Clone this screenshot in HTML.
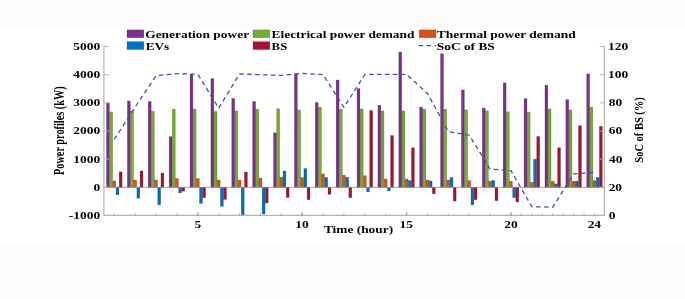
<!DOCTYPE html><html><head><meta charset="utf-8"><style>html,body{margin:0;padding:0;background:#fff;overflow:hidden}svg{display:block}svg{will-change:transform}text{font-family:"Liberation Serif",serif;font-weight:bold;fill:#000}</style></head><body>
<svg width="685" height="299" viewBox="0 0 685 299">
<rect x="0" y="0" width="685" height="299" fill="#ffffff"/>
<rect x="0" y="0" width="685" height="27" fill="#fcfcfc"/>
<rect x="0" y="245" width="685" height="54" fill="#fcfcfc"/>
<g shape-rendering="auto">
<rect x="106.53" y="102.85" width="2.85" height="84.45" fill="#7E2F8E" stroke="rgba(0,0,0,0.4)" stroke-width="0.5"/>
<rect x="109.70" y="111.94" width="2.85" height="75.36" fill="#77AC30" stroke="rgba(0,0,0,0.4)" stroke-width="0.5"/>
<rect x="112.88" y="181.05" width="2.85" height="6.25" fill="#D95319" stroke="rgba(0,0,0,0.4)" stroke-width="0.5"/>
<rect x="116.05" y="187.30" width="2.85" height="7.43" fill="#0072BD" stroke="rgba(0,0,0,0.4)" stroke-width="0.5"/>
<rect x="119.22" y="171.87" width="2.85" height="15.43" fill="#A2142F" stroke="rgba(0,0,0,0.4)" stroke-width="0.5"/>
<rect x="127.41" y="100.96" width="2.85" height="86.34" fill="#7E2F8E" stroke="rgba(0,0,0,0.4)" stroke-width="0.5"/>
<rect x="130.58" y="111.04" width="2.85" height="76.26" fill="#77AC30" stroke="rgba(0,0,0,0.4)" stroke-width="0.5"/>
<rect x="133.75" y="180.07" width="2.85" height="7.23" fill="#D95319" stroke="rgba(0,0,0,0.4)" stroke-width="0.5"/>
<rect x="136.92" y="187.30" width="2.85" height="10.87" fill="#0072BD" stroke="rgba(0,0,0,0.4)" stroke-width="0.5"/>
<rect x="140.09" y="170.94" width="2.85" height="16.36" fill="#A2142F" stroke="rgba(0,0,0,0.4)" stroke-width="0.5"/>
<rect x="148.29" y="101.56" width="2.85" height="85.74" fill="#7E2F8E" stroke="rgba(0,0,0,0.4)" stroke-width="0.5"/>
<rect x="151.46" y="111.44" width="2.85" height="75.86" fill="#77AC30" stroke="rgba(0,0,0,0.4)" stroke-width="0.5"/>
<rect x="154.63" y="180.07" width="2.85" height="7.23" fill="#D95319" stroke="rgba(0,0,0,0.4)" stroke-width="0.5"/>
<rect x="157.80" y="187.30" width="2.85" height="17.57" fill="#0072BD" stroke="rgba(0,0,0,0.4)" stroke-width="0.5"/>
<rect x="160.97" y="173.06" width="2.85" height="14.24" fill="#A2142F" stroke="rgba(0,0,0,0.4)" stroke-width="0.5"/>
<rect x="169.17" y="136.74" width="2.85" height="50.56" fill="#7E2F8E" stroke="rgba(0,0,0,0.4)" stroke-width="0.5"/>
<rect x="172.34" y="109.16" width="2.85" height="78.14" fill="#77AC30" stroke="rgba(0,0,0,0.4)" stroke-width="0.5"/>
<rect x="175.51" y="178.55" width="2.85" height="8.75" fill="#D95319" stroke="rgba(0,0,0,0.4)" stroke-width="0.5"/>
<rect x="178.68" y="187.30" width="2.85" height="5.55" fill="#0072BD" stroke="rgba(0,0,0,0.4)" stroke-width="0.5"/>
<rect x="181.85" y="187.30" width="2.85" height="3.86" fill="#A2142F" stroke="rgba(0,0,0,0.4)" stroke-width="0.5"/>
<rect x="190.05" y="74.25" width="2.85" height="113.05" fill="#7E2F8E" stroke="rgba(0,0,0,0.4)" stroke-width="0.5"/>
<rect x="193.22" y="109.16" width="2.85" height="78.14" fill="#77AC30" stroke="rgba(0,0,0,0.4)" stroke-width="0.5"/>
<rect x="196.39" y="178.55" width="2.85" height="8.75" fill="#D95319" stroke="rgba(0,0,0,0.4)" stroke-width="0.5"/>
<rect x="199.56" y="187.30" width="2.85" height="16.05" fill="#0072BD" stroke="rgba(0,0,0,0.4)" stroke-width="0.5"/>
<rect x="202.73" y="187.30" width="2.85" height="10.36" fill="#A2142F" stroke="rgba(0,0,0,0.4)" stroke-width="0.5"/>
<rect x="210.93" y="78.64" width="2.85" height="108.66" fill="#7E2F8E" stroke="rgba(0,0,0,0.4)" stroke-width="0.5"/>
<rect x="214.10" y="111.63" width="2.85" height="75.67" fill="#77AC30" stroke="rgba(0,0,0,0.4)" stroke-width="0.5"/>
<rect x="217.27" y="180.07" width="2.85" height="7.23" fill="#D95319" stroke="rgba(0,0,0,0.4)" stroke-width="0.5"/>
<rect x="220.44" y="187.30" width="2.85" height="19.06" fill="#0072BD" stroke="rgba(0,0,0,0.4)" stroke-width="0.5"/>
<rect x="223.61" y="187.30" width="2.85" height="12.05" fill="#A2142F" stroke="rgba(0,0,0,0.4)" stroke-width="0.5"/>
<rect x="231.80" y="98.54" width="2.85" height="88.76" fill="#7E2F8E" stroke="rgba(0,0,0,0.4)" stroke-width="0.5"/>
<rect x="234.97" y="110.96" width="2.85" height="76.34" fill="#77AC30" stroke="rgba(0,0,0,0.4)" stroke-width="0.5"/>
<rect x="238.14" y="180.07" width="2.85" height="7.23" fill="#D95319" stroke="rgba(0,0,0,0.4)" stroke-width="0.5"/>
<rect x="241.31" y="187.30" width="2.85" height="27.64" fill="#0072BD" stroke="rgba(0,0,0,0.4)" stroke-width="0.5"/>
<rect x="244.48" y="172.04" width="2.85" height="15.26" fill="#A2142F" stroke="rgba(0,0,0,0.4)" stroke-width="0.5"/>
<rect x="252.68" y="101.56" width="2.85" height="85.74" fill="#7E2F8E" stroke="rgba(0,0,0,0.4)" stroke-width="0.5"/>
<rect x="255.85" y="109.27" width="2.85" height="78.03" fill="#77AC30" stroke="rgba(0,0,0,0.4)" stroke-width="0.5"/>
<rect x="259.02" y="178.15" width="2.85" height="9.15" fill="#D95319" stroke="rgba(0,0,0,0.4)" stroke-width="0.5"/>
<rect x="262.19" y="187.30" width="2.85" height="26.66" fill="#0072BD" stroke="rgba(0,0,0,0.4)" stroke-width="0.5"/>
<rect x="265.36" y="187.30" width="2.85" height="15.65" fill="#A2142F" stroke="rgba(0,0,0,0.4)" stroke-width="0.5"/>
<rect x="273.56" y="132.86" width="2.85" height="54.44" fill="#7E2F8E" stroke="rgba(0,0,0,0.4)" stroke-width="0.5"/>
<rect x="276.73" y="108.85" width="2.85" height="78.45" fill="#77AC30" stroke="rgba(0,0,0,0.4)" stroke-width="0.5"/>
<rect x="279.90" y="177.25" width="2.85" height="10.05" fill="#D95319" stroke="rgba(0,0,0,0.4)" stroke-width="0.5"/>
<rect x="283.07" y="170.94" width="2.85" height="16.36" fill="#0072BD" stroke="rgba(0,0,0,0.4)" stroke-width="0.5"/>
<rect x="286.24" y="187.30" width="2.85" height="10.13" fill="#A2142F" stroke="rgba(0,0,0,0.4)" stroke-width="0.5"/>
<rect x="294.44" y="73.94" width="2.85" height="113.36" fill="#7E2F8E" stroke="rgba(0,0,0,0.4)" stroke-width="0.5"/>
<rect x="297.61" y="109.94" width="2.85" height="77.36" fill="#77AC30" stroke="rgba(0,0,0,0.4)" stroke-width="0.5"/>
<rect x="300.78" y="177.56" width="2.85" height="9.74" fill="#D95319" stroke="rgba(0,0,0,0.4)" stroke-width="0.5"/>
<rect x="303.95" y="168.64" width="2.85" height="18.66" fill="#0072BD" stroke="rgba(0,0,0,0.4)" stroke-width="0.5"/>
<rect x="307.12" y="187.30" width="2.85" height="12.36" fill="#A2142F" stroke="rgba(0,0,0,0.4)" stroke-width="0.5"/>
<rect x="315.32" y="102.54" width="2.85" height="84.76" fill="#7E2F8E" stroke="rgba(0,0,0,0.4)" stroke-width="0.5"/>
<rect x="318.49" y="107.35" width="2.85" height="79.95" fill="#77AC30" stroke="rgba(0,0,0,0.4)" stroke-width="0.5"/>
<rect x="321.66" y="173.96" width="2.85" height="13.34" fill="#D95319" stroke="rgba(0,0,0,0.4)" stroke-width="0.5"/>
<rect x="324.83" y="177.56" width="2.85" height="9.74" fill="#0072BD" stroke="rgba(0,0,0,0.4)" stroke-width="0.5"/>
<rect x="328.00" y="187.30" width="2.85" height="7.04" fill="#A2142F" stroke="rgba(0,0,0,0.4)" stroke-width="0.5"/>
<rect x="336.20" y="80.05" width="2.85" height="107.25" fill="#7E2F8E" stroke="rgba(0,0,0,0.4)" stroke-width="0.5"/>
<rect x="339.37" y="109.27" width="2.85" height="78.03" fill="#77AC30" stroke="rgba(0,0,0,0.4)" stroke-width="0.5"/>
<rect x="342.54" y="175.25" width="2.85" height="12.05" fill="#D95319" stroke="rgba(0,0,0,0.4)" stroke-width="0.5"/>
<rect x="345.71" y="177.25" width="2.85" height="10.05" fill="#0072BD" stroke="rgba(0,0,0,0.4)" stroke-width="0.5"/>
<rect x="348.88" y="187.30" width="2.85" height="10.44" fill="#A2142F" stroke="rgba(0,0,0,0.4)" stroke-width="0.5"/>
<rect x="357.07" y="88.63" width="2.85" height="98.67" fill="#7E2F8E" stroke="rgba(0,0,0,0.4)" stroke-width="0.5"/>
<rect x="360.24" y="109.04" width="2.85" height="78.26" fill="#77AC30" stroke="rgba(0,0,0,0.4)" stroke-width="0.5"/>
<rect x="363.41" y="175.76" width="2.85" height="11.54" fill="#D95319" stroke="rgba(0,0,0,0.4)" stroke-width="0.5"/>
<rect x="366.58" y="187.30" width="2.85" height="4.56" fill="#0072BD" stroke="rgba(0,0,0,0.4)" stroke-width="0.5"/>
<rect x="369.75" y="110.53" width="2.85" height="76.77" fill="#A2142F" stroke="rgba(0,0,0,0.4)" stroke-width="0.5"/>
<rect x="377.95" y="105.24" width="2.85" height="82.06" fill="#7E2F8E" stroke="rgba(0,0,0,0.4)" stroke-width="0.5"/>
<rect x="381.12" y="110.96" width="2.85" height="76.34" fill="#77AC30" stroke="rgba(0,0,0,0.4)" stroke-width="0.5"/>
<rect x="384.29" y="179.05" width="2.85" height="8.25" fill="#D95319" stroke="rgba(0,0,0,0.4)" stroke-width="0.5"/>
<rect x="387.46" y="187.30" width="2.85" height="3.63" fill="#0072BD" stroke="rgba(0,0,0,0.4)" stroke-width="0.5"/>
<rect x="390.63" y="135.56" width="2.85" height="51.74" fill="#A2142F" stroke="rgba(0,0,0,0.4)" stroke-width="0.5"/>
<rect x="398.83" y="52.04" width="2.85" height="135.26" fill="#7E2F8E" stroke="rgba(0,0,0,0.4)" stroke-width="0.5"/>
<rect x="402.00" y="110.96" width="2.85" height="76.34" fill="#77AC30" stroke="rgba(0,0,0,0.4)" stroke-width="0.5"/>
<rect x="405.17" y="179.05" width="2.85" height="8.25" fill="#D95319" stroke="rgba(0,0,0,0.4)" stroke-width="0.5"/>
<rect x="408.34" y="180.60" width="2.85" height="6.70" fill="#0072BD" stroke="rgba(0,0,0,0.4)" stroke-width="0.5"/>
<rect x="411.51" y="147.75" width="2.85" height="39.55" fill="#A2142F" stroke="rgba(0,0,0,0.4)" stroke-width="0.5"/>
<rect x="419.71" y="107.16" width="2.85" height="80.14" fill="#7E2F8E" stroke="rgba(0,0,0,0.4)" stroke-width="0.5"/>
<rect x="422.88" y="109.27" width="2.85" height="78.03" fill="#77AC30" stroke="rgba(0,0,0,0.4)" stroke-width="0.5"/>
<rect x="426.05" y="180.01" width="2.85" height="7.29" fill="#D95319" stroke="rgba(0,0,0,0.4)" stroke-width="0.5"/>
<rect x="429.22" y="180.99" width="2.85" height="6.31" fill="#0072BD" stroke="rgba(0,0,0,0.4)" stroke-width="0.5"/>
<rect x="432.39" y="187.30" width="2.85" height="6.45" fill="#A2142F" stroke="rgba(0,0,0,0.4)" stroke-width="0.5"/>
<rect x="440.59" y="53.76" width="2.85" height="133.54" fill="#7E2F8E" stroke="rgba(0,0,0,0.4)" stroke-width="0.5"/>
<rect x="443.76" y="109.27" width="2.85" height="78.03" fill="#77AC30" stroke="rgba(0,0,0,0.4)" stroke-width="0.5"/>
<rect x="446.93" y="180.01" width="2.85" height="7.29" fill="#D95319" stroke="rgba(0,0,0,0.4)" stroke-width="0.5"/>
<rect x="450.10" y="177.45" width="2.85" height="9.85" fill="#0072BD" stroke="rgba(0,0,0,0.4)" stroke-width="0.5"/>
<rect x="453.27" y="187.30" width="2.85" height="13.74" fill="#A2142F" stroke="rgba(0,0,0,0.4)" stroke-width="0.5"/>
<rect x="461.47" y="89.96" width="2.85" height="97.34" fill="#7E2F8E" stroke="rgba(0,0,0,0.4)" stroke-width="0.5"/>
<rect x="464.64" y="109.94" width="2.85" height="77.36" fill="#77AC30" stroke="rgba(0,0,0,0.4)" stroke-width="0.5"/>
<rect x="467.81" y="180.60" width="2.85" height="6.70" fill="#D95319" stroke="rgba(0,0,0,0.4)" stroke-width="0.5"/>
<rect x="470.98" y="187.30" width="2.85" height="17.57" fill="#0072BD" stroke="rgba(0,0,0,0.4)" stroke-width="0.5"/>
<rect x="474.15" y="187.30" width="2.85" height="12.36" fill="#A2142F" stroke="rgba(0,0,0,0.4)" stroke-width="0.5"/>
<rect x="482.34" y="108.06" width="2.85" height="79.24" fill="#7E2F8E" stroke="rgba(0,0,0,0.4)" stroke-width="0.5"/>
<rect x="485.51" y="110.96" width="2.85" height="76.34" fill="#77AC30" stroke="rgba(0,0,0,0.4)" stroke-width="0.5"/>
<rect x="488.68" y="181.11" width="2.85" height="6.19" fill="#D95319" stroke="rgba(0,0,0,0.4)" stroke-width="0.5"/>
<rect x="491.85" y="180.52" width="2.85" height="6.78" fill="#0072BD" stroke="rgba(0,0,0,0.4)" stroke-width="0.5"/>
<rect x="495.02" y="187.30" width="2.85" height="13.34" fill="#A2142F" stroke="rgba(0,0,0,0.4)" stroke-width="0.5"/>
<rect x="503.22" y="82.95" width="2.85" height="104.35" fill="#7E2F8E" stroke="rgba(0,0,0,0.4)" stroke-width="0.5"/>
<rect x="506.39" y="111.86" width="2.85" height="75.44" fill="#77AC30" stroke="rgba(0,0,0,0.4)" stroke-width="0.5"/>
<rect x="509.56" y="181.36" width="2.85" height="5.94" fill="#D95319" stroke="rgba(0,0,0,0.4)" stroke-width="0.5"/>
<rect x="512.73" y="187.30" width="2.85" height="10.36" fill="#0072BD" stroke="rgba(0,0,0,0.4)" stroke-width="0.5"/>
<rect x="515.90" y="187.30" width="2.85" height="14.64" fill="#A2142F" stroke="rgba(0,0,0,0.4)" stroke-width="0.5"/>
<rect x="524.10" y="98.74" width="2.85" height="88.56" fill="#7E2F8E" stroke="rgba(0,0,0,0.4)" stroke-width="0.5"/>
<rect x="527.27" y="112.06" width="2.85" height="75.24" fill="#77AC30" stroke="rgba(0,0,0,0.4)" stroke-width="0.5"/>
<rect x="530.44" y="182.40" width="2.85" height="4.90" fill="#D95319" stroke="rgba(0,0,0,0.4)" stroke-width="0.5"/>
<rect x="533.61" y="159.26" width="2.85" height="28.04" fill="#0072BD" stroke="rgba(0,0,0,0.4)" stroke-width="0.5"/>
<rect x="536.78" y="136.49" width="2.85" height="50.81" fill="#A2142F" stroke="rgba(0,0,0,0.4)" stroke-width="0.5"/>
<rect x="544.98" y="85.20" width="2.85" height="102.10" fill="#7E2F8E" stroke="rgba(0,0,0,0.4)" stroke-width="0.5"/>
<rect x="548.15" y="109.04" width="2.85" height="78.26" fill="#77AC30" stroke="rgba(0,0,0,0.4)" stroke-width="0.5"/>
<rect x="551.32" y="181.25" width="2.85" height="6.05" fill="#D95319" stroke="rgba(0,0,0,0.4)" stroke-width="0.5"/>
<rect x="554.49" y="183.89" width="2.85" height="3.41" fill="#0072BD" stroke="rgba(0,0,0,0.4)" stroke-width="0.5"/>
<rect x="557.66" y="147.75" width="2.85" height="39.55" fill="#A2142F" stroke="rgba(0,0,0,0.4)" stroke-width="0.5"/>
<rect x="565.86" y="99.64" width="2.85" height="87.66" fill="#7E2F8E" stroke="rgba(0,0,0,0.4)" stroke-width="0.5"/>
<rect x="569.03" y="109.94" width="2.85" height="77.36" fill="#77AC30" stroke="rgba(0,0,0,0.4)" stroke-width="0.5"/>
<rect x="572.20" y="181.25" width="2.85" height="6.05" fill="#D95319" stroke="rgba(0,0,0,0.4)" stroke-width="0.5"/>
<rect x="575.37" y="181.11" width="2.85" height="6.19" fill="#0072BD" stroke="rgba(0,0,0,0.4)" stroke-width="0.5"/>
<rect x="578.54" y="125.76" width="2.85" height="61.54" fill="#A2142F" stroke="rgba(0,0,0,0.4)" stroke-width="0.5"/>
<rect x="586.74" y="73.94" width="2.85" height="113.36" fill="#7E2F8E" stroke="rgba(0,0,0,0.4)" stroke-width="0.5"/>
<rect x="589.91" y="107.16" width="2.85" height="80.14" fill="#77AC30" stroke="rgba(0,0,0,0.4)" stroke-width="0.5"/>
<rect x="593.08" y="180.60" width="2.85" height="6.70" fill="#D95319" stroke="rgba(0,0,0,0.4)" stroke-width="0.5"/>
<rect x="596.25" y="177.45" width="2.85" height="9.85" fill="#0072BD" stroke="rgba(0,0,0,0.4)" stroke-width="0.5"/>
<rect x="599.42" y="126.36" width="2.85" height="60.94" fill="#A2142F" stroke="rgba(0,0,0,0.4)" stroke-width="0.5"/>
</g>
<line x1="103.9" y1="187.3" x2="604.4" y2="187.3" stroke="#8a8a8a" stroke-width="0.8"/>
<line x1="103.9" y1="46.55" x2="103.9" y2="215.45" stroke="#b4b4b4" stroke-width="1.2"/>
<line x1="604.4" y1="46.55" x2="604.4" y2="215.45" stroke="#b4b4b4" stroke-width="1.2"/>
<line x1="103.30000000000001" y1="215.45" x2="605.0" y2="215.45" stroke="#b4b4b4" stroke-width="1.2"/>
<line x1="103.9" y1="215.45" x2="108.9" y2="215.45" stroke="#b4b4b4" stroke-width="1"/>
<line x1="103.9" y1="187.30" x2="108.9" y2="187.30" stroke="#b4b4b4" stroke-width="1"/>
<line x1="103.9" y1="159.15" x2="108.9" y2="159.15" stroke="#b4b4b4" stroke-width="1"/>
<line x1="103.9" y1="131.00" x2="108.9" y2="131.00" stroke="#b4b4b4" stroke-width="1"/>
<line x1="103.9" y1="102.85" x2="108.9" y2="102.85" stroke="#b4b4b4" stroke-width="1"/>
<line x1="103.9" y1="74.70" x2="108.9" y2="74.70" stroke="#b4b4b4" stroke-width="1"/>
<line x1="103.9" y1="46.55" x2="108.9" y2="46.55" stroke="#b4b4b4" stroke-width="1"/>
<line x1="599.6" y1="215.45" x2="604.4" y2="215.45" stroke="#b4b4b4" stroke-width="1"/>
<line x1="599.6" y1="187.30" x2="604.4" y2="187.30" stroke="#b4b4b4" stroke-width="1"/>
<line x1="599.6" y1="159.15" x2="604.4" y2="159.15" stroke="#b4b4b4" stroke-width="1"/>
<line x1="599.6" y1="131.00" x2="604.4" y2="131.00" stroke="#b4b4b4" stroke-width="1"/>
<line x1="599.6" y1="102.85" x2="604.4" y2="102.85" stroke="#b4b4b4" stroke-width="1"/>
<line x1="599.6" y1="74.70" x2="604.4" y2="74.70" stroke="#b4b4b4" stroke-width="1"/>
<line x1="599.6" y1="46.55" x2="604.4" y2="46.55" stroke="#b4b4b4" stroke-width="1"/>
<line x1="114.30" y1="215.45" x2="114.30" y2="213.54999999999998" stroke="#999" stroke-width="0.9"/>
<line x1="135.18" y1="215.45" x2="135.18" y2="213.54999999999998" stroke="#999" stroke-width="0.9"/>
<line x1="156.06" y1="215.45" x2="156.06" y2="213.54999999999998" stroke="#999" stroke-width="0.9"/>
<line x1="176.93" y1="215.45" x2="176.93" y2="213.54999999999998" stroke="#999" stroke-width="0.9"/>
<line x1="197.81" y1="215.45" x2="197.81" y2="213.54999999999998" stroke="#999" stroke-width="0.9"/>
<line x1="218.69" y1="215.45" x2="218.69" y2="213.54999999999998" stroke="#999" stroke-width="0.9"/>
<line x1="239.57" y1="215.45" x2="239.57" y2="213.54999999999998" stroke="#999" stroke-width="0.9"/>
<line x1="260.45" y1="215.45" x2="260.45" y2="213.54999999999998" stroke="#999" stroke-width="0.9"/>
<line x1="281.33" y1="215.45" x2="281.33" y2="213.54999999999998" stroke="#999" stroke-width="0.9"/>
<line x1="302.20" y1="215.45" x2="302.20" y2="213.54999999999998" stroke="#999" stroke-width="0.9"/>
<line x1="323.08" y1="215.45" x2="323.08" y2="213.54999999999998" stroke="#999" stroke-width="0.9"/>
<line x1="343.96" y1="215.45" x2="343.96" y2="213.54999999999998" stroke="#999" stroke-width="0.9"/>
<line x1="364.84" y1="215.45" x2="364.84" y2="213.54999999999998" stroke="#999" stroke-width="0.9"/>
<line x1="385.72" y1="215.45" x2="385.72" y2="213.54999999999998" stroke="#999" stroke-width="0.9"/>
<line x1="406.60" y1="215.45" x2="406.60" y2="213.54999999999998" stroke="#999" stroke-width="0.9"/>
<line x1="427.47" y1="215.45" x2="427.47" y2="213.54999999999998" stroke="#999" stroke-width="0.9"/>
<line x1="448.35" y1="215.45" x2="448.35" y2="213.54999999999998" stroke="#999" stroke-width="0.9"/>
<line x1="469.23" y1="215.45" x2="469.23" y2="213.54999999999998" stroke="#999" stroke-width="0.9"/>
<line x1="490.11" y1="215.45" x2="490.11" y2="213.54999999999998" stroke="#999" stroke-width="0.9"/>
<line x1="510.99" y1="215.45" x2="510.99" y2="213.54999999999998" stroke="#999" stroke-width="0.9"/>
<line x1="531.87" y1="215.45" x2="531.87" y2="213.54999999999998" stroke="#999" stroke-width="0.9"/>
<line x1="552.74" y1="215.45" x2="552.74" y2="213.54999999999998" stroke="#999" stroke-width="0.9"/>
<line x1="573.62" y1="215.45" x2="573.62" y2="213.54999999999998" stroke="#999" stroke-width="0.9"/>
<line x1="594.50" y1="215.45" x2="594.50" y2="213.54999999999998" stroke="#999" stroke-width="0.9"/>
<line x1="521.43" y1="215.45" x2="521.43" y2="213.54999999999998" stroke="#999" stroke-width="0.9"/>
<line x1="542.30" y1="215.45" x2="542.30" y2="213.54999999999998" stroke="#999" stroke-width="0.9"/>
<line x1="563.18" y1="215.45" x2="563.18" y2="213.54999999999998" stroke="#999" stroke-width="0.9"/>
<line x1="584.06" y1="215.45" x2="584.06" y2="213.54999999999998" stroke="#999" stroke-width="0.9"/>
<line x1="197.81" y1="215.45" x2="197.81" y2="211.95" stroke="#999" stroke-width="0.9"/>
<line x1="302.20" y1="215.45" x2="302.20" y2="211.95" stroke="#999" stroke-width="0.9"/>
<line x1="406.60" y1="215.45" x2="406.60" y2="211.95" stroke="#999" stroke-width="0.9"/>
<line x1="510.99" y1="215.45" x2="510.99" y2="211.95" stroke="#999" stroke-width="0.9"/>
<polyline points="114.30,139.44 135.18,107.07 156.06,75.69 176.93,73.57 197.81,74.28 218.69,108.06 239.57,74.00 260.45,74.70 281.33,75.40 302.20,73.43 323.08,74.70 343.96,107.35 364.84,74.42 385.72,74.42 406.60,74.42 427.47,93.42 448.35,131.56 469.23,135.22 490.11,169.00 510.99,170.69 531.87,206.72 552.74,207.15 573.62,173.93 594.50,172.38" fill="none" stroke="#3f51ab" stroke-width="1.3" stroke-dasharray="4.5 3.4"/>
<rect x="127.0" y="29.9" width="16.8" height="7.8" fill="#7E2F8E" stroke="rgba(0,0,0,0.35)" stroke-width="0.5"/>
<rect x="127.0" y="41.7" width="16.8" height="7.8" fill="#0072BD" stroke="rgba(0,0,0,0.35)" stroke-width="0.5"/>
<rect x="253.0" y="29.9" width="16.8" height="7.8" fill="#77AC30" stroke="rgba(0,0,0,0.35)" stroke-width="0.5"/>
<rect x="253.0" y="41.7" width="16.8" height="7.8" fill="#A2142F" stroke="rgba(0,0,0,0.35)" stroke-width="0.5"/>
<rect x="419.2" y="29.9" width="16.8" height="7.8" fill="#D95319" stroke="rgba(0,0,0,0.35)" stroke-width="0.5"/>
<line x1="418.7" y1="45.6" x2="436" y2="45.6" stroke="#3f51ab" stroke-width="1.3" stroke-dasharray="4.4 3.5"/>
<text x="0" y="0" font-size="11.3" transform="translate(145.23,37.90) scale(1.1876,1)">Generation power</text>
<text x="0" y="0" font-size="11.3" transform="translate(145.70,49.80) scale(1.1749,1)">EVs</text>
<text x="0" y="0" font-size="11.3" transform="translate(271.60,37.90) scale(1.1813,1)">Electrical power demand</text>
<text x="0" y="0" font-size="11.3" transform="translate(271.61,49.80) scale(1.1318,1)">BS</text>
<text x="0" y="0" font-size="11.3" transform="translate(436.80,37.90) scale(1.1920,1)">Thermal power demand</text>
<text x="0" y="0" font-size="11.3" transform="translate(436.86,49.80) scale(1.1834,1)">SoC of BS</text>
<text x="0" y="0" font-size="10.5" transform="translate(68.86,218.90) scale(1.2800,1)">-1000</text>
<text x="0" y="0" font-size="10.5" transform="translate(93.52,190.75) scale(1.2800,1)">0</text>
<text x="0" y="0" font-size="10.5" transform="translate(73.36,162.60) scale(1.2800,1)">1000</text>
<text x="0" y="0" font-size="10.5" transform="translate(73.36,134.45) scale(1.2800,1)">2000</text>
<text x="0" y="0" font-size="10.5" transform="translate(73.36,106.30) scale(1.2800,1)">3000</text>
<text x="0" y="0" font-size="10.5" transform="translate(73.36,78.15) scale(1.2800,1)">4000</text>
<text x="0" y="0" font-size="10.5" transform="translate(73.36,50.00) scale(1.2800,1)">5000</text>
<text x="0" y="0" font-size="10.5" transform="translate(608.66,218.90) scale(1.2800,1)">0</text>
<text x="0" y="0" font-size="10.5" transform="translate(608.66,190.75) scale(1.2800,1)">20</text>
<text x="0" y="0" font-size="10.5" transform="translate(609.00,162.60) scale(1.2800,1)">40</text>
<text x="0" y="0" font-size="10.5" transform="translate(608.73,134.45) scale(1.2800,1)">60</text>
<text x="0" y="0" font-size="10.5" transform="translate(608.73,106.30) scale(1.2800,1)">80</text>
<text x="0" y="0" font-size="10.5" transform="translate(608.12,78.15) scale(1.2800,1)">100</text>
<text x="0" y="0" font-size="10.5" transform="translate(608.12,50.00) scale(1.2800,1)">120</text>
<text x="0" y="0" font-size="10.5" transform="translate(194.42,228.10) scale(1.2800,1)">5</text>
<text x="0" y="0" font-size="10.5" transform="translate(295.22,228.10) scale(1.2800,1)">10</text>
<text x="0" y="0" font-size="10.5" transform="translate(399.57,228.10) scale(1.2800,1)">15</text>
<text x="0" y="0" font-size="10.5" transform="translate(504.27,228.10) scale(1.2800,1)">20</text>
<text x="0" y="0" font-size="10.5" transform="translate(587.65,228.10) scale(1.2800,1)">24</text>
<text x="0" y="0" font-size="11.3" transform="translate(323.90,232.90) scale(1.1857,1)">Time (hour)</text>
<text x="0" y="0" font-size="13.8" transform="translate(63.90,174.95) rotate(-90) scale(0.7441,1)">Power profiles (kW)</text>
<text x="0" y="0" font-size="13.2" transform="translate(642.60,162.68) rotate(-90) scale(0.7951,1)">SoC of BS (%)</text>
</svg></body></html>
